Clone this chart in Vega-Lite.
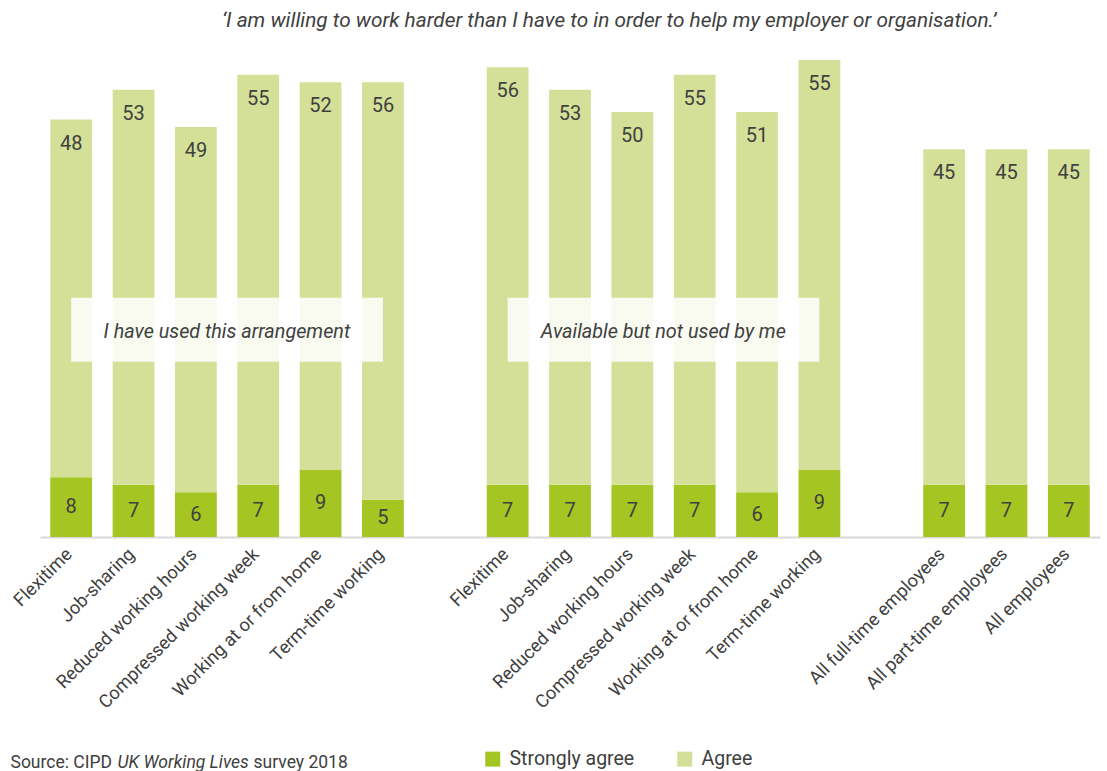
{
  "$schema": "https://vega.github.io/schema/vega-lite/v6.json",
  "width": 1060,
  "height": 492,
  "autosize": {"type": "none"},
  "padding": {"left": 40, "top": 45, "right": 7, "bottom": 234},
  "config": {
    "font": "Roboto",
    "view": {"stroke": null},
    "axis": {"grid": false}
  },
  "title": {
    "text": "‘I am willing to work harder than I have to in order to help my employer or organisation.’",
    "fontStyle": "italic",
    "fontWeight": "normal",
    "fontSize": 20.8,
    "color": "#404040",
    "anchor": "start",
    "frame": "group",
    "dx": 182,
    "offset": 13
  },
  "datasets": {
    "bars": [
      {"key": "1|Flexitime", "series": "Strongly agree", "value": 8},
      {"key": "1|Flexitime", "series": "Agree", "value": 48},
      {"key": "1|Job-sharing", "series": "Strongly agree", "value": 7},
      {"key": "1|Job-sharing", "series": "Agree", "value": 53},
      {"key": "1|Reduced working hours", "series": "Strongly agree", "value": 6},
      {"key": "1|Reduced working hours", "series": "Agree", "value": 49},
      {"key": "1|Compressed working week", "series": "Strongly agree", "value": 7},
      {"key": "1|Compressed working week", "series": "Agree", "value": 55},
      {"key": "1|Working at or from home", "series": "Strongly agree", "value": 9},
      {"key": "1|Working at or from home", "series": "Agree", "value": 52},
      {"key": "1|Term-time working", "series": "Strongly agree", "value": 5},
      {"key": "1|Term-time working", "series": "Agree", "value": 56},
      {"key": "2|Flexitime", "series": "Strongly agree", "value": 7},
      {"key": "2|Flexitime", "series": "Agree", "value": 56},
      {"key": "2|Job-sharing", "series": "Strongly agree", "value": 7},
      {"key": "2|Job-sharing", "series": "Agree", "value": 53},
      {"key": "2|Reduced working hours", "series": "Strongly agree", "value": 7},
      {"key": "2|Reduced working hours", "series": "Agree", "value": 50},
      {"key": "2|Compressed working week", "series": "Strongly agree", "value": 7},
      {"key": "2|Compressed working week", "series": "Agree", "value": 55},
      {"key": "2|Working at or from home", "series": "Strongly agree", "value": 6},
      {"key": "2|Working at or from home", "series": "Agree", "value": 51},
      {"key": "2|Term-time working", "series": "Strongly agree", "value": 9},
      {"key": "2|Term-time working", "series": "Agree", "value": 55},
      {"key": "3|All full-time employees", "series": "Strongly agree", "value": 7},
      {"key": "3|All full-time employees", "series": "Agree", "value": 45},
      {"key": "3|All part-time employees", "series": "Strongly agree", "value": 7},
      {"key": "3|All part-time employees", "series": "Agree", "value": 45},
      {"key": "3|All employees", "series": "Strongly agree", "value": 7},
      {"key": "3|All employees", "series": "Agree", "value": 45}
    ],
    "boxes": [
      {"text": "I have used this arrangement", "from": "1|Flexitime", "to": "1|Term-time working", "mid": "1|Reduced working hours"},
      {"text": "Available but not used by me", "from": "2|Flexitime", "to": "2|Term-time working", "mid": "2|Reduced working hours"}
    ]
  },
  "layer": [
    {
      "data": {"name": "bars"},
      "transform": [
        {"stack": "value", "groupby": ["key"], "sort": [{"field": "series", "order": "descending"}], "as": ["v0", "v1"]}
      ],
      "mark": {"type": "bar"},
      "encoding": {
        "x": {
          "field": "key",
          "type": "nominal",
          "sort": null,
          "scale": {
            "domain": ["1|Flexitime", "1|Job-sharing", "1|Reduced working hours", "1|Compressed working week", "1|Working at or from home", "1|Term-time working", "gap1|",
                       "2|Flexitime", "2|Job-sharing", "2|Reduced working hours", "2|Compressed working week", "2|Working at or from home", "2|Term-time working", "gap2|",
                       "3|All full-time employees", "3|All part-time employees", "3|All employees"],
            "paddingInner": 0.33,
            "paddingOuter": 0.165
          },
          "axis": {
            "labelExpr": "split(datum.value, '|')[1]",
            "labelAngle": -45,
            "labelFontSize": 18.2,
            "labelColor": "#404040",
            "labelPadding": 8,
            "labelOffset": -8,
            "labelLimit": 0,
            "labelOverlap": false,
            "labelBound": false,
            "ticks": false,
            "domainColor": "#d9d9d9",
            "domainWidth": 2,
            "titleFontSize": 17.5,
            "titleFontWeight": "normal",
            "titleColor": "#404040",
            "titleAnchor": "start",
            "titleAlign": "left",
            "titleBaseline": "alphabetic",
            "titleX": -30,
            "titleY": 230,
            "titleAngle": 0
          },
          "title": "Source: CIPD"
        },
        "y": {"field": "v0", "type": "quantitative", "scale": {"domain": [0, 66]}, "axis": null},
        "y2": {"field": "v1"},
        "color": {
          "field": "series",
          "type": "nominal",
          "scale": {"domain": ["Strongly agree", "Agree"], "range": ["#a5c522", "#d4e097"]},
          "legend": {
            "title": null,
            "orient": "none",
            "legendX": 443,
            "legendY": 704,
            "direction": "horizontal",
            "symbolType": "square",
            "symbolSize": 225,
            "symbolStrokeWidth": 0,
            "labelFontSize": 19.5,
            "labelColor": "#404040",
            "labelOffset": 7,
            "columnPadding": 40
          }
        }
      }
    },
    {
      "data": {"name": "boxes"},
      "mark": {"type": "rect", "fill": "white", "opacity": 0.85},
      "encoding": {
        "x": {"field": "from", "type": "nominal", "bandPosition": 0.5},
        "x2": {"field": "to", "bandPosition": 0.5},
        "y": {
          "datum": 23.5,
          "type": "quantitative",
          "scale": {"domain": [0, 66]},
          "axis": {
            "orient": "left",
            "title": "UK Working Lives",
            "titleFontStyle": "italic",
            "titleFontWeight": "normal",
            "titleFontSize": 17.5,
            "titleColor": "#404040",
            "titleAngle": 0,
            "titleAlign": "left",
            "titleBaseline": "alphabetic",
            "titleAnchor": "start",
            "titleX": 77,
            "titleY": 722,
            "domain": false,
            "ticks": false,
            "labels": false,
            "grid": false
          }
        },
        "y2": {"datum": 32.1}
      }
    },
    {
      "data": {"name": "boxes"},
      "mark": {"type": "text", "fontStyle": "italic", "fontSize": 19.8, "color": "#404040", "align": "center", "baseline": "middle", "dx": 31, "dy": 2},
      "encoding": {
        "x": {"field": "mid", "type": "nominal"},
        "y": {"datum": 27.8, "type": "quantitative", "scale": {"domain": [0, 66]}, "axis": null},
        "text": {"field": "text"}
      }
    },
    {
      "data": {"name": "bars"},
      "transform": [
        {"stack": "value", "groupby": ["key"], "sort": [{"field": "series", "order": "descending"}], "as": ["v0", "v1"]},
        {"filter": "datum.series === 'Agree'"}
      ],
      "mark": {"type": "text", "fontSize": 20, "color": "#404040", "baseline": "middle", "dy": 24},
      "encoding": {
        "x": {"field": "key", "type": "nominal"},
        "y": {
          "field": "v1",
          "type": "quantitative",
          "scale": {"domain": [0, 66]},
          "axis": {
            "orient": "left",
            "title": "survey 2018",
            "titleFontWeight": "normal",
            "titleFontSize": 17.5,
            "titleColor": "#404040",
            "titleAngle": 0,
            "titleAlign": "left",
            "titleBaseline": "alphabetic",
            "titleAnchor": "start",
            "titleX": 213,
            "titleY": 722,
            "domain": false,
            "ticks": false,
            "labels": false,
            "grid": false
          }
        },
        "text": {"field": "value"}
      }
    },
    {
      "data": {"name": "bars"},
      "transform": [{"filter": "datum.series === 'Strongly agree'"}],
      "mark": {"type": "text", "fontSize": 20, "color": "#404040", "baseline": "middle"},
      "encoding": {
        "x": {"field": "key", "type": "nominal"},
        "y": {"field": "value", "type": "quantitative", "scale": {"domain": [0, 132]}, "axis": null},
        "text": {"field": "value"}
      }
    }
  ],
  "resolve": {"scale": {"y": "independent"}}
}
